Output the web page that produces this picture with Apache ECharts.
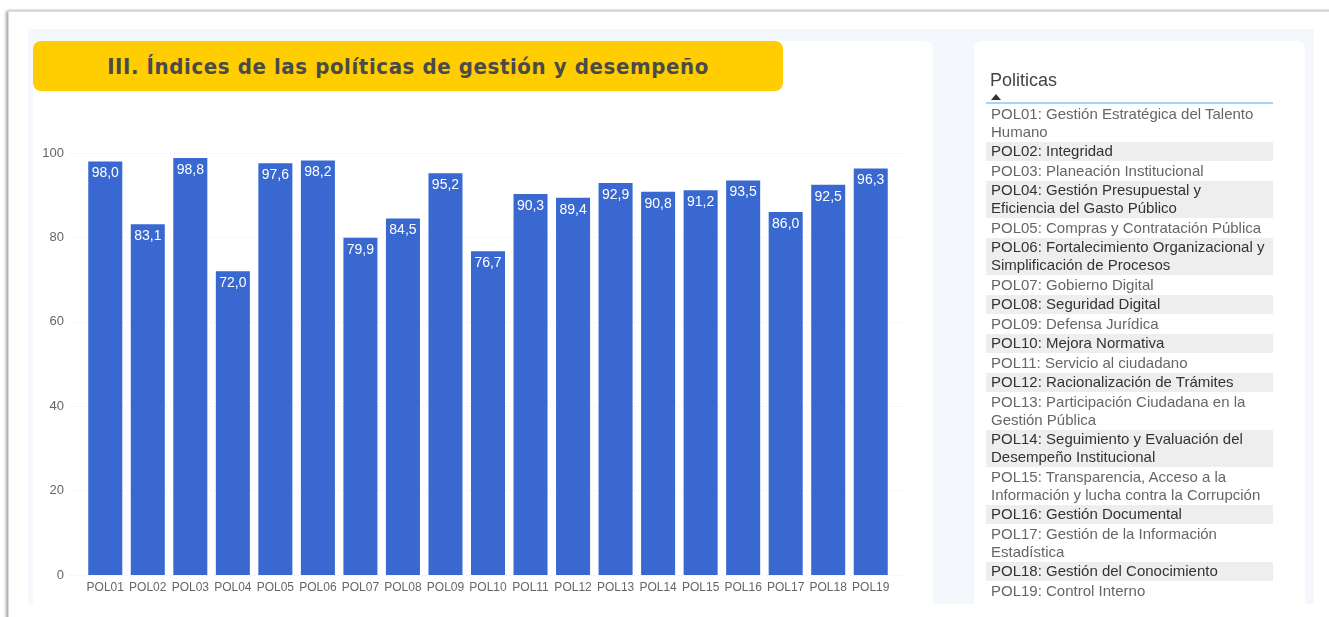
<!DOCTYPE html>
<html>
<head>
<meta charset="utf-8">
<script src="https://cdn.jsdelivr.net/npm/echarts@6/dist/echarts.min.js"></script>
<style>
  html, body { margin: 0; padding: 0; width: 1329px; height: 617px; overflow: hidden; background: #ffffff; font-family: "Liberation Sans", Arial, sans-serif; }
  .frame { position: absolute; left: 8px; top: 11px; width: 1340px; height: 640px; border: 1px solid #dcdcdc; box-shadow: -2px 0 3px rgba(0,0,0,0.35), 0 -1px 2px rgba(0,0,0,0.08); background: #fff; }
  .inner { position: absolute; left: 28px; top: 29px; width: 1286px; height: 575px; background: #f4f7fc; }
  .card { position: absolute; background: #ffffff; border-radius: 8px 8px 0 0; }
  .left { left: 33px; top: 41px; width: 900px; height: 563px; }
  .right { left: 974px; top: 41px; width: 331px; height: 563px; }
  .title { position: absolute; left: 33px; top: 41px; width: 750px; height: 50px; background: #ffcd00; border-radius: 8px; display: flex; align-items: center; justify-content: center; font-family: "DejaVu Sans Condensed", "DejaVu Sans", sans-serif; font-weight: bold; font-size: 22px; letter-spacing: 0.6px; color: #4a4a4a; z-index: 3; }
  #chart { position: absolute; left: 0; top: 0; width: 1329px; height: 617px; z-index: 2; }
  .panel { position: absolute; left: 986px; top: 69px; width: 287px; z-index: 3; }
  .phead { font-size: 18px; color: #444; padding-left: 4px; height: 21px; line-height: 21px; position: relative; top: 1px; }
  .tri { height: 12px; border-bottom: 2px solid #a9d2f4; padding-left: 5px; position: relative; }
  .tri span { position: absolute; left: 5px; top: 4px; width: 0; height: 0; border-left: 5px solid transparent; border-right: 5px solid transparent; border-bottom: 6px solid #333; }
  .row { font-size: 15px; line-height: 18px; padding: 0.75px 0 0.75px 5px; white-space: pre; color: #666; }
  .row.alt { background: #eeeeee; color: #333; }
</style>
</head>
<body>
<div class="frame"></div>
<div class="inner"></div>
<div class="card left"></div>
<div class="card right"></div>
<div class="title" id="title"></div>
<div id="chart"></div>
<div class="panel" id="panel"></div>
<script>
const titleText = "III. Índices de las políticas de gestión y desempeño";
const categories = ["POL01","POL02","POL03","POL04","POL05","POL06","POL07","POL08","POL09","POL10","POL11","POL12","POL13","POL14","POL15","POL16","POL17","POL18","POL19"];
const values = [98.0, 83.1, 98.8, 72.0, 97.6, 98.2, 79.9, 84.5, 95.2, 76.7, 90.3, 89.4, 92.9, 90.8, 91.2, 93.5, 86.0, 92.5, 96.3];
const yTicks = [0, 20, 40, 60, 80, 100];
const panelHeader = "Politicas";
const policyNames = [
  "POL01: Gestión Estratégica del Talento\nHumano",
  "POL02: Integridad",
  "POL03: Planeación Institucional",
  "POL04: Gestión Presupuestal y\nEficiencia del Gasto Público",
  "POL05: Compras y Contratación Pública",
  "POL06: Fortalecimiento Organizacional y\nSimplificación de Procesos",
  "POL07: Gobierno Digital",
  "POL08: Seguridad Digital",
  "POL09: Defensa Jurídica",
  "POL10: Mejora Normativa",
  "POL11: Servicio al ciudadano",
  "POL12: Racionalización de Trámites",
  "POL13: Participación Ciudadana en la\nGestión Pública",
  "POL14: Seguimiento y Evaluación del\nDesempeño Institucional",
  "POL15: Transparencia, Acceso a la\nInformación y lucha contra la Corrupción",
  "POL16: Gestión Documental",
  "POL17: Gestión de la Información\nEstadística",
  "POL18: Gestión del Conocimiento",
  "POL19: Control Interno"
];

document.getElementById('title').textContent = titleText;
const panel = document.getElementById('panel');
const h = document.createElement('div'); h.className = 'phead'; h.textContent = panelHeader; panel.appendChild(h);
const t = document.createElement('div'); t.className = 'tri'; t.appendChild(document.createElement('span')); panel.appendChild(t);
policyNames.forEach((n, i) => {
  const d = document.createElement('div');
  d.className = 'row' + (i % 2 === 1 ? ' alt' : '');
  d.textContent = n;
  panel.appendChild(d);
});

const chart = echarts.init(document.getElementById('chart'), null, { renderer: 'canvas' });
const yMin = yTicks[0], yMax = yTicks[yTicks.length - 1], yStep = yTicks[1] - yTicks[0];
chart.setOption({
  animation: false,
  grid: [
    { left: 84, right: 437, top: 153, bottom: 42 },
    { left: 70, right: 424, top: 153, bottom: 42 }
  ],
  xAxis: [
    {
      gridIndex: 0, type: 'category', data: categories,
      axisLine: { show: false }, axisTick: { show: false },
      axisLabel: { color: '#666666', fontSize: 12, margin: 7, fontFamily: 'Liberation Sans, Arial, sans-serif', interval: 0 }
    },
    { gridIndex: 1, type: 'value', show: false, min: 0, max: 1 }
  ],
  yAxis: [
    { gridIndex: 0, type: 'value', min: yMin, max: yMax, interval: yStep, show: false, splitLine: { show: false } },
    {
      gridIndex: 1, type: 'value', min: yMin, max: yMax, interval: yStep,
      axisLine: { show: false }, axisTick: { show: false },
      axisLabel: { color: '#666666', fontSize: 13, margin: 6, fontFamily: 'Liberation Sans, Arial, sans-serif' },
      splitLine: { show: true, lineStyle: { color: '#e2e2e2', type: [1, 3], width: 1 } }
    }
  ],
  series: [{
    type: 'bar', xAxisIndex: 0, yAxisIndex: 0, data: values,
    barCategoryGap: '20%',
    itemStyle: { color: '#3968d0' },
    label: {
      show: true, position: 'insideTop', distance: 5, color: '#ffffff', fontSize: 14,
      fontFamily: 'Liberation Sans, Arial, sans-serif',
      formatter: p => p.value.toFixed(1).replace('.', ',')
    }
  }]
});
</script>
</body>
</html>
